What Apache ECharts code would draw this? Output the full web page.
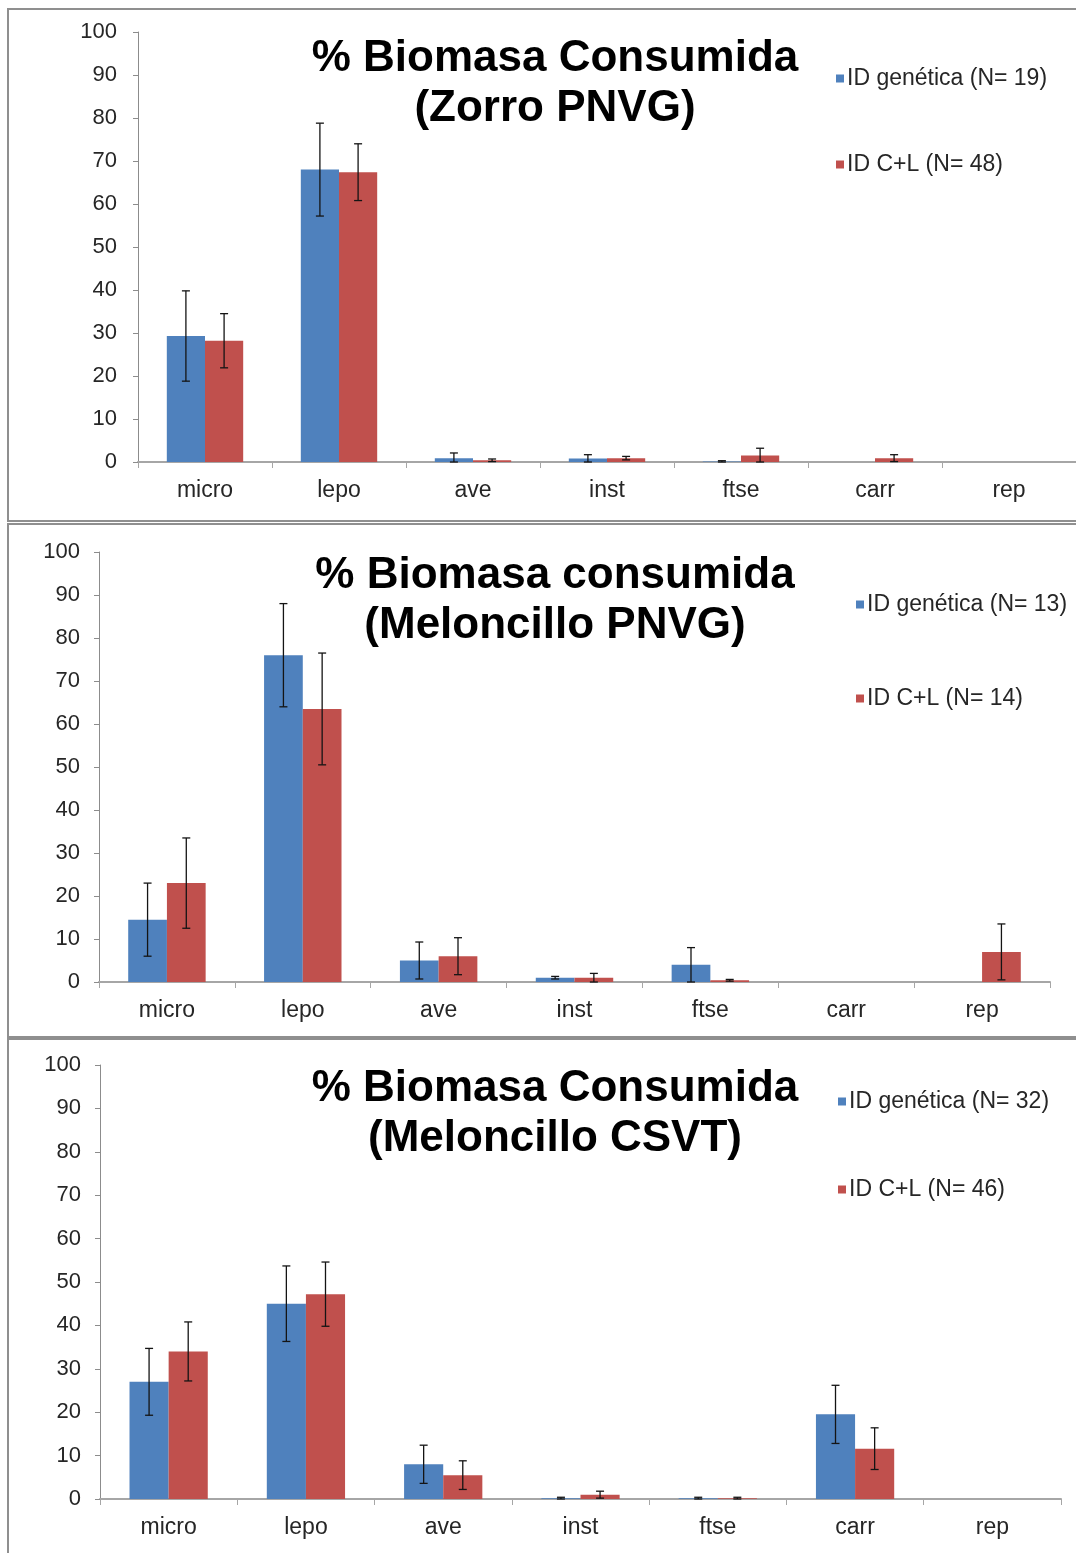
<!DOCTYPE html>
<html>
<head>
<meta charset="utf-8">
<script src="https://cdn.jsdelivr.net/npm/echarts@6/dist/echarts.min.js"></script>
<style>
html,body{margin:0;padding:0;background:#fff;}
#chart{width:1076px;height:1553px;}
</style>
</head>
<body>
<div id="chart"></div>
<script>
// ---- data ----
const categories = ['micro', 'lepo', 'ave', 'inst', 'ftse', 'carr', 'rep'];

const titles = [
  '% Biomasa Consumida\n(Zorro PNVG)',
  '% Biomasa consumida\n(Meloncillo PNVG)',
  '% Biomasa Consumida\n(Meloncillo CSVT)'
];
const genNames = ['ID genética (N= 19)', 'ID genética (N= 13)', 'ID genética (N= 32)'];
const clNames  = ['ID C+L (N= 48)', 'ID C+L (N= 14)', 'ID C+L (N= 46)'];

// Panel 1: Zorro PNVG
const zorroGen    = [29.3, 68.0, 0.9, 0.8, 0.1, 0, 0];
const zorroGenErr = [10.5, 10.8, 1.2, 0.9, 0.2, 0, 0];
const zorroCL     = [28.2, 67.4, 0.4, 0.9, 1.5, 0.9, 0];
const zorroCLErr  = [6.3, 6.6, 0.3, 0.4, 1.7, 0.8, 0];

// Panel 2: Meloncillo PNVG
const melPGen    = [14.5, 76.0, 5.0, 1.0, 4.0, 0, 0];
const melPGenErr = [8.5, 12.0, 4.3, 0.3, 4.0, 0, 0];
const melPCL     = [23.0, 63.5, 6.0, 1.0, 0.4, 0, 7.0];
const melPCLErr  = [10.5, 13.0, 4.3, 1.0, 0.2, 0, 6.5];

// Panel 3: Meloncillo CSVT
const melCGen    = [27.0, 45.0, 8.0, 0.2, 0.2, 19.5, 0];
const melCGenErr = [7.7, 8.7, 4.4, 0.2, 0.2, 6.7, 0];
const melCCL     = [34.0, 47.2, 5.5, 1.0, 0.2, 11.6, 0];
const melCCLErr  = [6.8, 7.4, 3.3, 0.8, 0.2, 4.8, 0];

const panels = [
  {gen: zorroGen, genErr: zorroGenErr, cl: zorroCL, clErr: zorroCLErr},
  {gen: melPGen, genErr: melPGenErr, cl: melPCL, clErr: melPCLErr},
  {gen: melCGen, genErr: melCGenErr, cl: melCCL, clErr: melCCLErr}
];

// ---- layout / style ----
const BLUE = '#4F81BD', RED = '#C0504D';
const BAR_FRAC = 0.285;
const FONT = '"Liberation Sans", Arial, sans-serif';
const grids = [
  {left: 138, top: 32, width: 944, height: 430},
  {left: 99, top: 552, width: 951, height: 430},
  {left: 100, top: 1065, width: 961, height: 434}
];
const titleTops = [29, 546, 1059];
const legendLayout = [
  {left: 831, top: 62, gap: 63},
  {left: 851, top: 588, gap: 71},
  {left: 833, top: 1085, gap: 65}
];
const borders = [
  {y: 9, h: 512},
  {y: 524, h: 513},
  {y: 1039, h: 530}
];
const yLabelMargin = [21, 19, 19];

function errorSeries(name, idx, vals, errs, side) {
  return {
    type: 'custom',
    name: name + ' err',
    xAxisIndex: idx, yAxisIndex: idx,
    silent: true,
    z: 10,
    data: vals.map((v, i) => [i, v, errs[i]]),
    renderItem: function (params, api) {
      const ci = api.value(0), v = api.value(1), e = api.value(2);
      if (!e) return null;
      const band = api.size([1, 0])[0];
      const off = side * band * BAR_FRAC / 2;
      const pTop = api.coord([ci, v + e]);
      const pBot = api.coord([ci, Math.max(v - e, 0)]);
      const x = pTop[0] + off;
      const cap = 4;
      const st = {stroke: '#141414', lineWidth: 1.3};
      return {
        type: 'group',
        children: [
          {type: 'line', shape: {x1: x, y1: pTop[1], x2: x, y2: pBot[1]}, style: st},
          {type: 'line', shape: {x1: x - cap, y1: pTop[1], x2: x + cap, y2: pTop[1]}, style: st},
          {type: 'line', shape: {x1: x - cap, y1: pBot[1], x2: x + cap, y2: pBot[1]}, style: st}
        ]
      };
    }
  };
}

const option = {
  backgroundColor: '#ffffff',
  animation: false,
  textStyle: {fontFamily: FONT},
  title: titles.map((t, i) => ({
    text: t,
    left: 550,
    top: titleTops[i],
    textAlign: 'center',
    textStyle: {fontFamily: FONT, fontSize: 44, fontWeight: 'bold', color: '#000', lineHeight: 50}
  })),
  legend: legendLayout.map((l, i) => ({
    data: [genNames[i], clNames[i]],
    orient: 'vertical',
    left: l.left,
    top: l.top,
    itemGap: l.gap,
    itemWidth: 8,
    itemHeight: 8,
    icon: 'rect',
    itemStyle: {borderWidth: 0},
    textStyle: {fontFamily: FONT, fontSize: 23, color: '#262626', lineHeight: 23, padding: [0, 0, 0, -2]},
    selectedMode: false
  })),
  grid: grids.map(g => Object.assign({containLabel: false}, g)),
  xAxis: grids.map((g, i) => ({
    type: 'category',
    gridIndex: i,
    data: categories,
    axisLine: {show: true, lineStyle: {color: '#a6a6a6', width: 2}},
    axisTick: {show: true, alignWithLabel: false, length: 6, lineStyle: {color: '#a6a6a6', width: 1}},
    axisLabel: {fontFamily: FONT, fontSize: 23, color: '#262626', margin: 17},
    splitLine: {show: false}
  })),
  yAxis: grids.map((g, i) => ({
    type: 'value',
    gridIndex: i,
    min: 0, max: 100, interval: 10,
    axisLine: {show: true, lineStyle: {color: '#8c8c8c', width: 1}},
    axisTick: {show: true, length: 5, lineStyle: {color: '#8c8c8c'}},
    axisLabel: {fontFamily: FONT, fontSize: 22, color: '#262626', margin: yLabelMargin[i]},
    splitLine: {show: false}
  })),
  graphic: borders.map(b => ({
    type: 'rect',
    silent: true,
    z: -1,
    shape: {x: 8, y: b.y, width: 1100, height: b.h},
    style: {fill: 'none', stroke: '#8f8f8f', lineWidth: 2}
  })),
  series: []
};

panels.forEach((p, i) => {
  option.series.push({
    type: 'bar', name: genNames[i], xAxisIndex: i, yAxisIndex: i,
    data: p.gen, barWidth: (BAR_FRAC * 100) + '%', barGap: '0%',
    itemStyle: {color: BLUE}
  });
  option.series.push({
    type: 'bar', name: clNames[i], xAxisIndex: i, yAxisIndex: i,
    data: p.cl, barWidth: (BAR_FRAC * 100) + '%', barGap: '0%',
    itemStyle: {color: RED}
  });
  option.series.push(errorSeries(genNames[i], i, p.gen, p.genErr, -1));
  option.series.push(errorSeries(clNames[i], i, p.cl, p.clErr, 1));
});

const chart = echarts.init(document.getElementById('chart'), null, {renderer: 'canvas'});
chart.setOption(option);
</script>
</body>
</html>
